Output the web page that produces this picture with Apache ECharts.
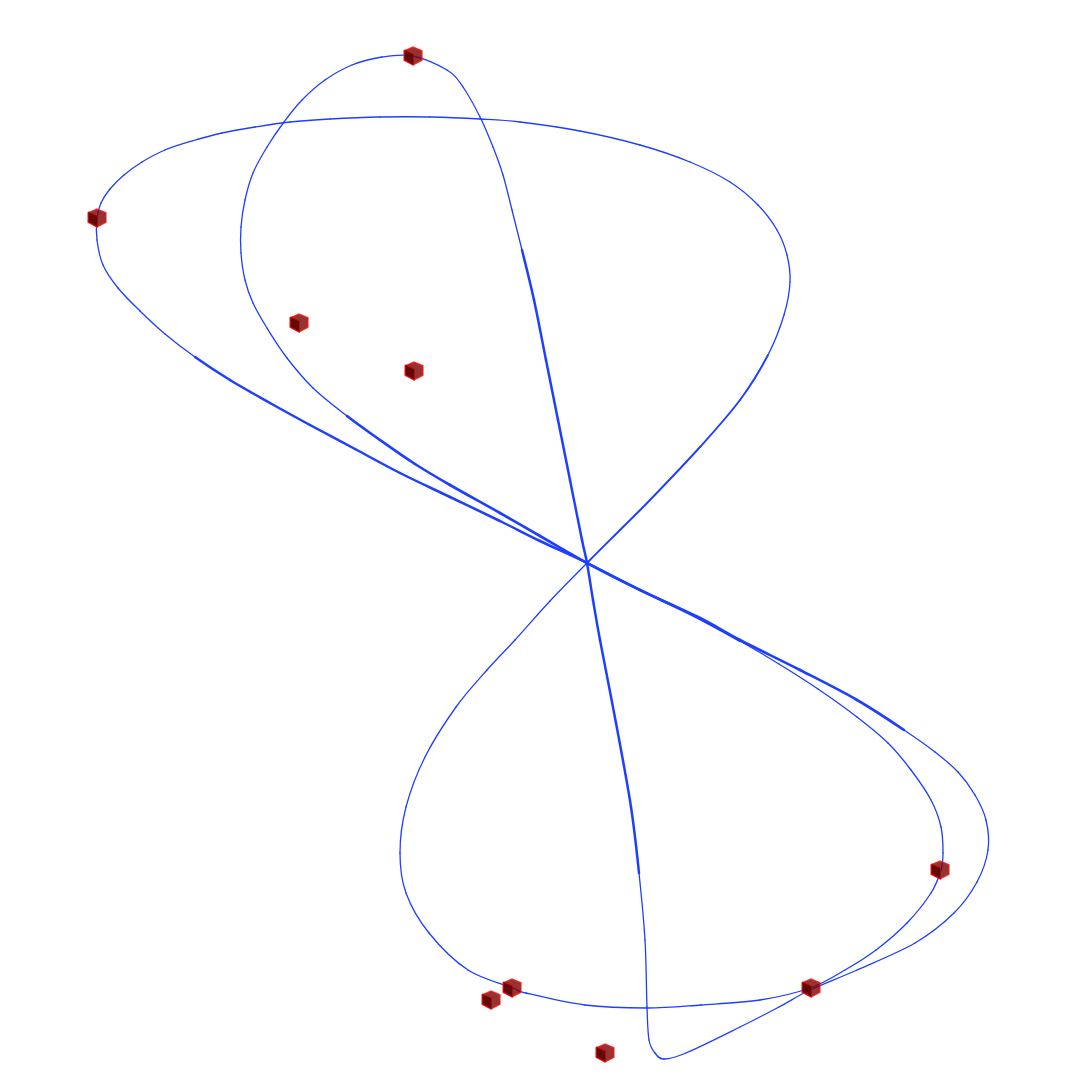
<!DOCTYPE html>
<html>
<head>
<meta charset="utf-8">
<style>html,body{margin:0;padding:0;background:#fff;}#main{width:1067px;height:1080px;}</style>
<script src="https://cdn.jsdelivr.net/npm/echarts@6/dist/echarts.min.js"></script>
</head>
<body>
<div id="main"></div>
<script>
// Projected curve points (horizontal, vertical)
var curveA = [
  [587,563],[620,530],[650,500],[700,447],[740,400],[768,355],[784,315],[790,282],[787,255],[777,230],
  [758,205],[730,182],[690,162],[640,145],[580,131],[520,122],[480,119],[430,117],[380,117],[330,119],
  [290,122],[255,127],[222,133],[192,141],[165,150],[142,162],[124,175],[110,189],[101,203],[97,218],
  [97,240],[103,265],[118,288],[140,311],[165,334],[195,357],[230,380],[270,403],[310,425],[355,449],
  [400,473],[450,497],[500,521],[540,541],[587,563],[640,590],[690,614],[740,641],[779,664],[818,689],
  [857,717],[888,743],[911,770],[931,800],[941,827],[943,853],[941,870],[931,893],[907,923],[876,950],
  [845,970],[810,988],[760,1000],[701,1005],[647,1008],[585,1005],[526,993],[513,988],[468,970],[429,933],
  [406,893],[400,853],[406,807],[425,757],[456,707],[487,670],[515,640],[550,601],[587,563]
];
var curveB = [
  [413,56],[447,70],[463,87],[480,117],[493,147],[503,175],[512,210],[522,250],[534,300],[546,360],
  [558,420],[570,480],[582,540],[587,563],[593,600],[600,640],[616,723],[631,807],[639,873],[645,940],
  [647,1007],[649,1040],[655,1053],[664,1059],[686,1053],[740,1027],[779,1007],[810,990],[857,970],[915,943],
  [954,913],[977,882],[988,850],[986,820],[975,795],[958,772],[935,752],[904,730],[857,700],[800,670],
  [740,640],[700,618],[640,590],[587,563],[540,536],[500,513],[450,485],[415,464],[380,440],[347,416],
  [313,388],[287,358],[267,328],[253,303],[245,280],[241,253],[241,227],[245,200],[253,173],[267,147],
  [284,122],[302,100],[325,80],[352,65],[382,57],[413,56]
];
var cubes = [
  [413,56],[97,218],[299,323],[414,371],[940,870],[811,988],[512,988],[491,1000],[605,1053]
];
// segment index ranges of the denser, thicker-looking stretches of each curve: [from, to, width]
var thickA = [[35,47,2.5],[0,5,1.9]];
var thickB = [[7,18,2.5],[37,49,2.6]];

var LINE = '#1f3fff';

function curveSeries(pts, ranges) {
  var n = pts.length;
  var closed = pts[0][0] === pts[n - 1][0] && pts[0][1] === pts[n - 1][1];
  function widthOf(i) {
    for (var k = 0; k < ranges.length; k++) {
      if (i >= ranges[k][0] && i < ranges[k][1]) return ranges[k][2];
    }
    return 1.3;
  }
  return {
    type: 'custom', coordinateSystem: 'cartesian2d', data: pts, silent: true, clip: false,
    encode: { x: 0, y: 1 }, z: 2, animation: false,
    renderItem: function (params, api) {
      var i = params.dataIndex;
      if (i >= n - 1) return null;
      var p0 = i > 0 ? pts[i - 1] : (closed ? pts[n - 2] : pts[i]);
      var p3 = i + 2 < n ? pts[i + 2] : (closed ? pts[1] : pts[i + 1]);
      var c0 = api.coord(p0), c1 = api.coord(pts[i]), c2 = api.coord(pts[i + 1]), c3 = api.coord(p3);
      return {
        type: 'bezierCurve',
        shape: {
          x1: c1[0], y1: c1[1], x2: c2[0], y2: c2[1],
          cpx1: c1[0] + (c2[0] - c0[0]) / 6, cpy1: c1[1] + (c2[1] - c0[1]) / 6,
          cpx2: c2[0] - (c3[0] - c1[0]) / 6, cpy2: c2[1] - (c3[1] - c1[1]) / 6
        },
        style: { stroke: LINE, fill: null, lineWidth: widthOf(i), lineCap: 'round' }
      };
    }
  };
}
var series = [curveSeries(curveA, thickA), curveSeries(curveB, thickB)];
// cube: body, then darker side face
series.push({
  type: 'scatter', data: cubes, symbol: 'path://M1,4L10,0L19,4L19,14L10,19L1,14Z', symbolSize: [18, 18],
  itemStyle: { color: '#7a0000', borderColor: '#ff1414', borderWidth: 1.3 }, z: 5, animation: false, silent: true
});
series.push({
  type: 'scatter', data: cubes, symbol: 'path://M1,4L10,8L10,19L1,14Z', symbolSize: [9, 15], symbolOffset: [-4, 1.5],
  itemStyle: { color: '#520000', borderColor: '#e00000', borderWidth: 0.8 }, z: 6, animation: false, silent: true
});

var chart = echarts.init(document.getElementById('main'), null, { renderer: 'canvas' });
chart.setOption({
  backgroundColor: '#ffffff',
  animation: false,
  grid: { left: 0, right: 0, top: 0, bottom: 0 },
  xAxis: { type: 'value', min: 0, max: 1067, show: false },
  yAxis: { type: 'value', min: 0, max: 1080, inverse: true, show: false },
  series: series
});
</script>
</body>
</html>
